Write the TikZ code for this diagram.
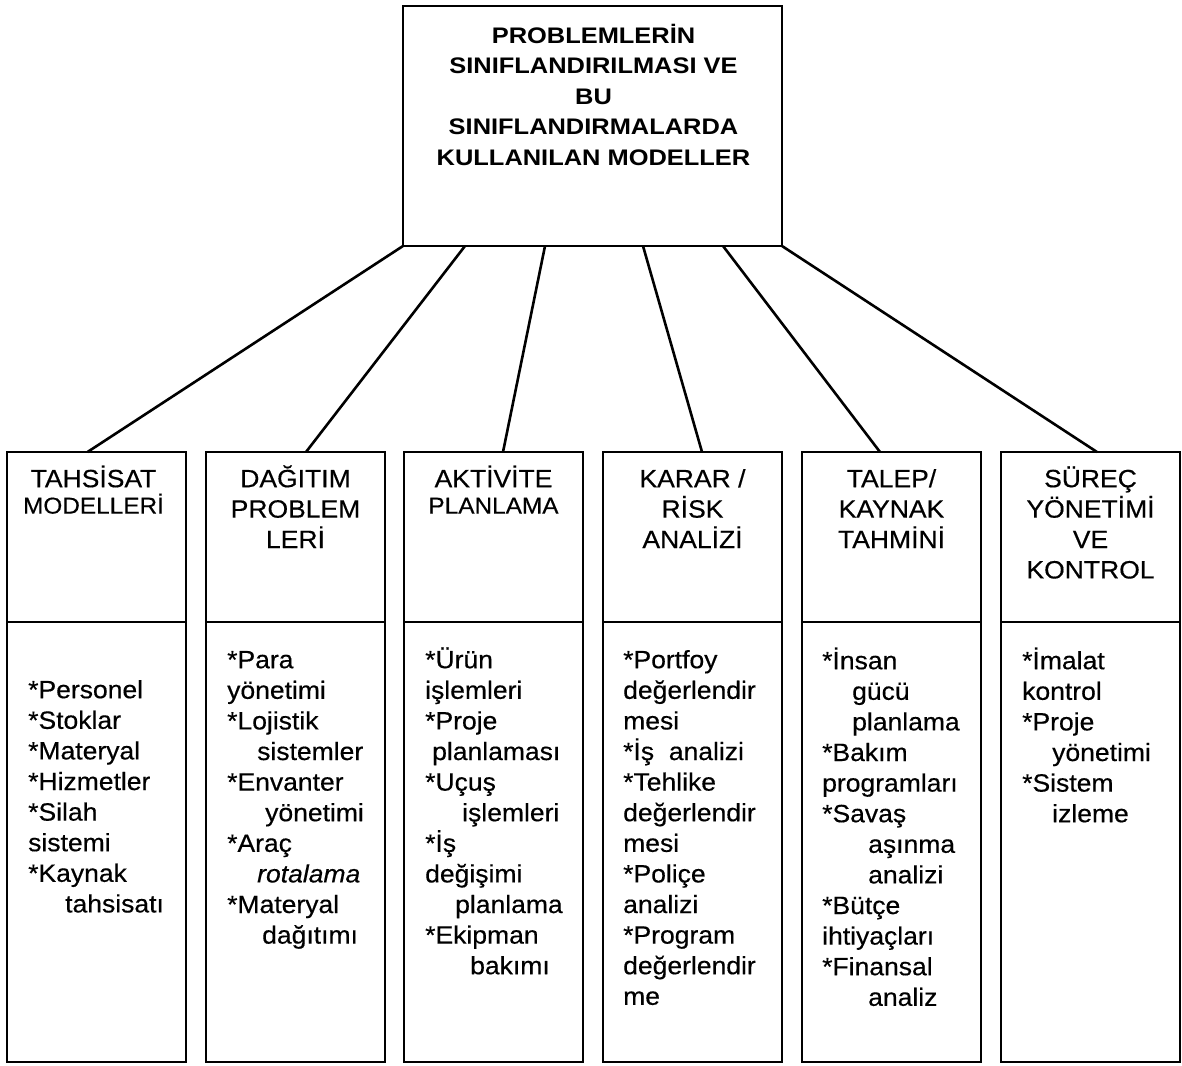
\documentclass[tikz,border=0pt]{standalone}
\usepackage{fontspec}
\setmainfont{Liberation Sans}
\newfontfamily\titlefont{Liberation Sans}[FakeStretch=1.13]
\newfontfamily\cellfont{Liberation Sans}[FakeStretch=1.06,FakeBold=0.4]
\usetikzlibrary{calc}

\tikzset{
  boxline/.style={draw, line width=2pt, inner sep=0pt, outer sep=0pt},
  topbox/.style={boxline, minimum width=379pt, minimum height=240pt, anchor=north west},
  headbox/.style={boxline, minimum width=179pt, minimum height=170pt, anchor=north west},
  bodybox/.style={boxline, minimum width=179pt, minimum height=440pt, anchor=north west},
  titletext/.style={inner sep=0pt, anchor=north, align=center,
    font=\titlefont\bfseries\fontsize{22.5}{30.5}\selectfont},
  headtext/.style={inner sep=0pt, anchor=north, align=center,
    font=\cellfont\fontsize{25}{30.4}\selectfont},
  bodytext/.style={inner sep=0pt, anchor=north west, align=left,
    font=\cellfont\fontsize{25}{30.6}\selectfont},
  link/.style={line width=2.6pt}
}
\newcommand{\firstline}{\rule{0pt}{24pt}}
\newcommand{\smallhead}{\fontsize{23}{26}\selectfont}
\newcommand{\ind}[1]{\hspace*{#1pt}}

\begin{document}
\begin{tikzpicture}[x=1pt,y=-1pt]
\useasboundingbox (0,0) rectangle (1182,1065);
\fill[white] (0,0) rectangle (1182,1065);

% root box
\node[topbox] (top) at (403,6) {};
\node[titletext] (toptext) at ($(top.north)+(1,14.5)$)
  {\rule{0pt}{22.5pt}PROBLEMLERİN\\SINIFLANDIRILMASI VE\\BU\\SINIFLANDIRMALARDA\\KULLANILAN MODELLER};

% category columns: header box over item box
\node[headbox] (h1) at (7,452) {};
\node[headbox] (h2) at (206,452) {};
\node[headbox] (h3) at (404,452) {};
\node[headbox] (h4) at (603,452) {};
\node[headbox] (h5) at (802,452) {};
\node[headbox] (h6) at (1001,452) {};

\node[bodybox] (b1) at (7,622) {};
\node[bodybox] (b2) at (206,622) {};
\node[bodybox] (b3) at (404,622) {};
\node[bodybox] (b4) at (603,622) {};
\node[bodybox] (b5) at (802,622) {};
\node[bodybox] (b6) at (1001,622) {};

% header titles
\node[headtext] (ht1) at ($(h1.north)+(-3,11)$) {\firstline TAHSİSAT\\[-4pt]{\smallhead MODELLERİ}};
\node[headtext] (ht2) at ($(h2.north)+(0,11)$) {\firstline DAĞITIM\\PROBLEM\\LERİ};
\node[headtext] (ht3) at ($(h3.north)+(0,11)$) {\firstline AKTİVİTE\\[-4pt]{\smallhead PLANLAMA}};
\node[headtext] (ht4) at ($(h4.north)+(0,11)$) {\firstline KARAR /\\RİSK\\ANALİZİ};
\node[headtext] (ht5) at ($(h5.north)+(0,11)$) {\firstline TALEP/\\KAYNAK\\TAHMİNİ};
\node[headtext] (ht6) at ($(h6.north)+(0,11)$) {\firstline SÜREÇ\\YÖNETİMİ\\VE\\KONTROL};

% item lists
\node[bodytext] (bt1) at ($(b1.north west)+(21,52)$) {\firstline
  *Personel\\*Stoklar\\*Materyal\\*Hizmetler\\*Silah\\sistemi\\*Kaynak\\\ind{37}tahsisatı};
\node[bodytext] (bt2) at ($(b2.north west)+(21,22)$) {\firstline
  *Para\\yönetimi\\*Lojistik\\\ind{30}sistemler\\*Envanter\\\ind{38}yönetimi\\*Araç\\\ind{30}\textit{rotalama}\\*Materyal\\\ind{35}dağıtımı};
\node[bodytext] (bt3) at ($(b3.north west)+(21,22)$) {\firstline
  *Ürün\\işlemleri\\*Proje\\\ind{7}planlaması\\*Uçuş\\\ind{37}işlemleri\\*İş\\değişimi\\\ind{30}planlama\\*Ekipman\\\ind{45}bakımı};
\node[bodytext] (bt4) at ($(b4.north west)+(20,22)$) {\firstline
  *Portfoy\\değerlendir\\mesi\\*İş~~analizi\\*Tehlike\\değerlendir\\mesi\\*Poliçe\\analizi\\*Program\\değerlendir\\me};
\node[bodytext] (bt5) at ($(b5.north west)+(20,23)$) {\firstline
  *İnsan\\\ind{30}gücü\\\ind{30}planlama\\*Bakım\\programları\\*Savaş\\\ind{46}aşınma\\\ind{46}analizi\\*Bütçe\\ihtiyaçları\\*Finansal\\\ind{46}analiz};
\node[bodytext] (bt6) at ($(b6.north west)+(21,23)$) {\firstline
  *İmalat\\kontrol\\*Proje\\\ind{30}yönetimi\\*Sistem\\\ind{30}izleme};

% connectors from the root box to each column
\draw[link] (top.south west) -- ($(h1.north)+(-9,0)$);
\draw[link] ($(top.south west)+(62,0)$) -- ($(h2.north)+(10.5,0)$);
\draw[link] ($(top.south west)+(142,0)$) -- ($(h3.north)+(9.5,0)$);
\draw[link] ($(top.south west)+(240,0)$) -- ($(h4.north)+(9.5,0)$);
\draw[link] ($(top.south west)+(320,0)$) -- ($(h5.north)+(-11.5,0)$);
\draw[link] (top.south east) -- ($(h6.north)+(6.5,0)$);
\end{tikzpicture}
\end{document}
